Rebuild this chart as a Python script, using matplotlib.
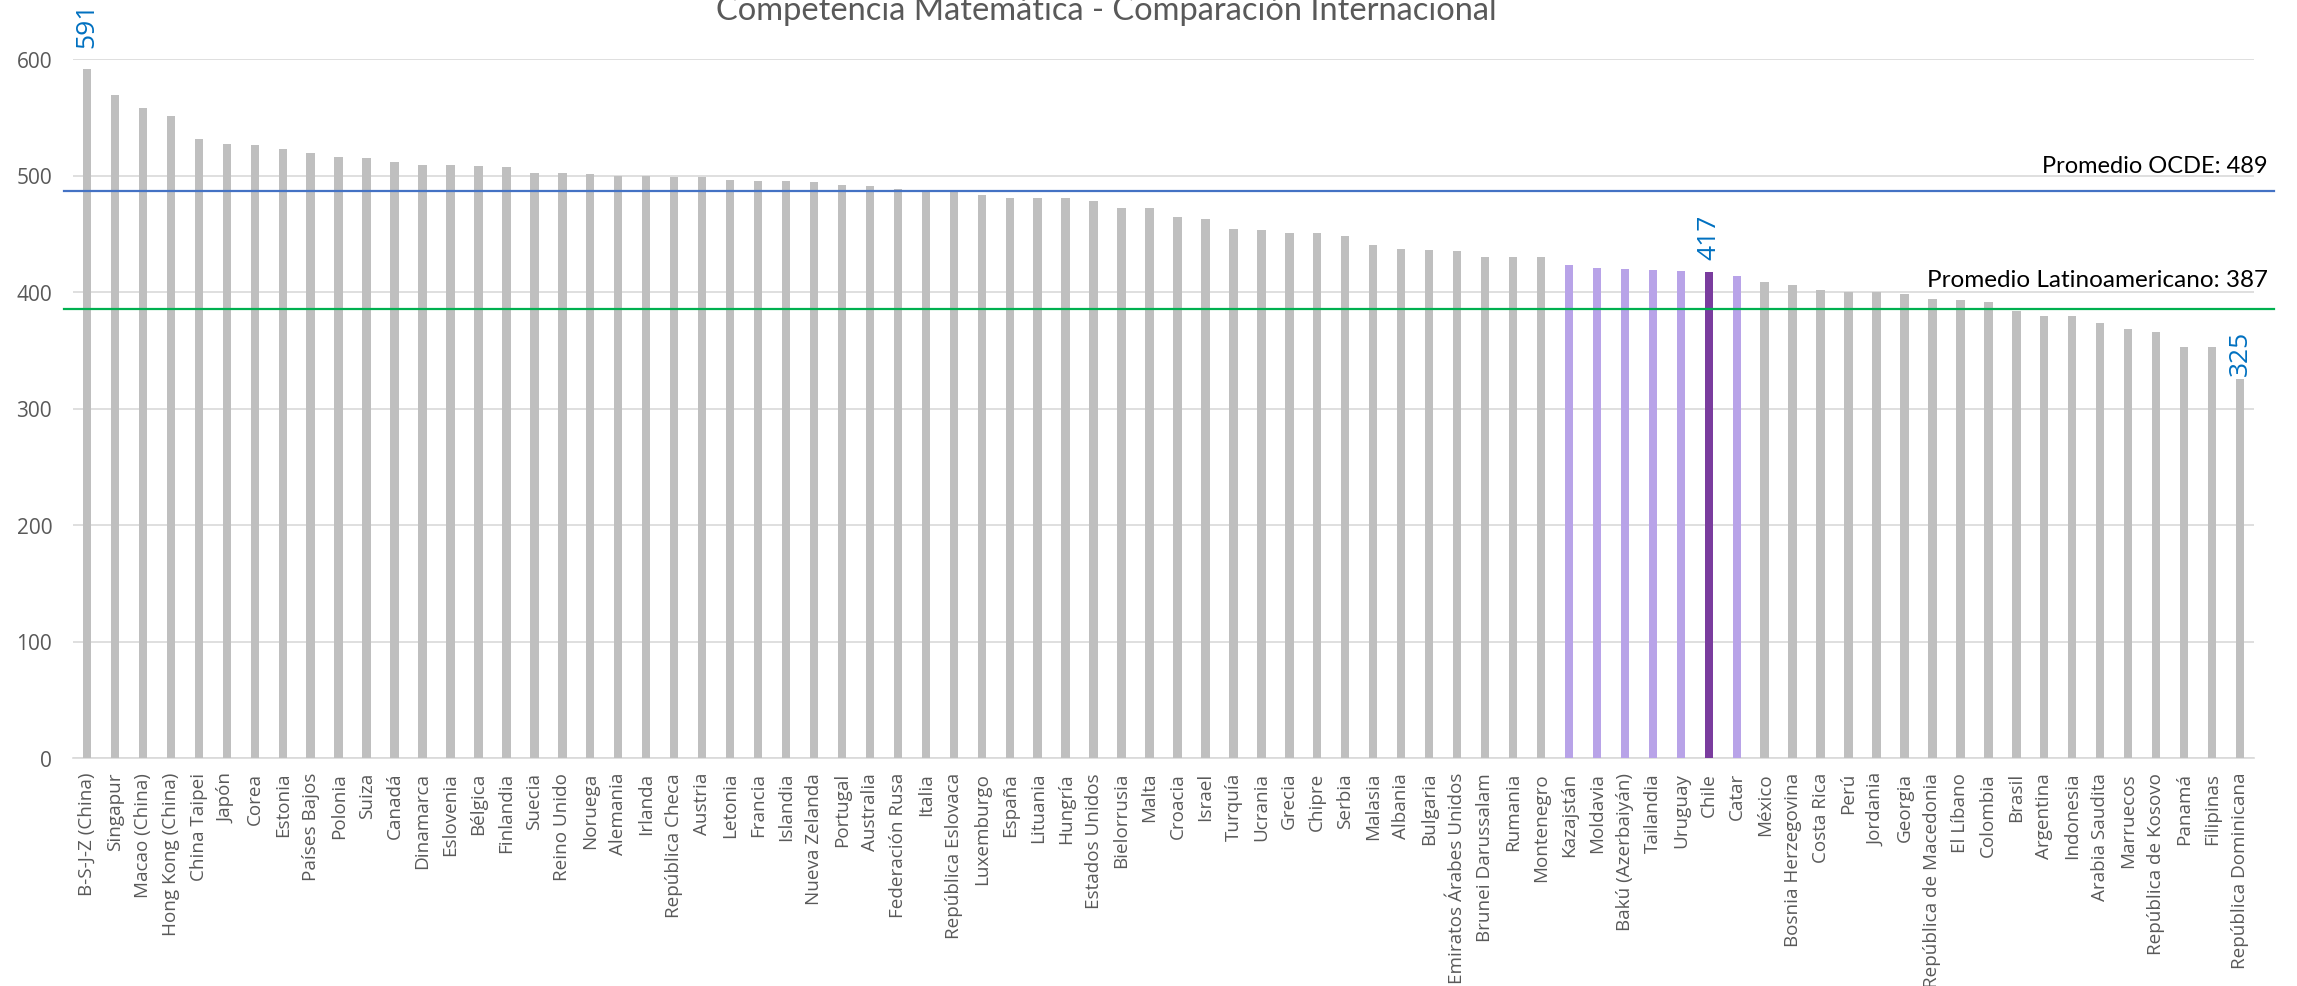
import matplotlib
matplotlib.use("Agg")
import matplotlib.pyplot as plt

countries = [
    "B-S-J-Z (China)", "Singapur", "Macao (China)", "Hong Kong (China)", "China Taipei",
    "Japón", "Corea", "Estonia", "Países Bajos", "Polonia", "Suiza", "Canadá",
    "Dinamarca", "Eslovenia", "Bélgica", "Finlandia", "Suecia", "Reino Unido",
    "Noruega", "Alemania", "Irlanda", "República Checa", "Austria", "Letonia",
    "Francia", "Islandia", "Nueva Zelanda", "Portugal", "Australia", "Federación Rusa",
    "Italia", "República Eslovaca", "Luxemburgo", "España", "Lituania", "Hungría",
    "Estados Unidos", "Bielorrusia", "Malta", "Croacia", "Israel", "Turquía",
    "Ucrania", "Grecia", "Chipre", "Serbia", "Malasia", "Albania", "Bulgaria",
    "Emiratos Árabes Unidos", "Brunei Darussalam", "Rumania", "Montenegro",
    "Kazajstán", "Moldavia", "Bakú (Azerbaiyán)", "Tailandia", "Uruguay", "Chile",
    "Catar", "México", "Bosnia Herzegovina", "Costa Rica", "Perú", "Jordania",
    "Georgia", "República de Macedonia", "El Líbano", "Colombia", "Brasil",
    "Argentina", "Indonesia", "Arabia Saudita", "Marruecos", "República de Kosovo",
    "Panamá", "Filipinas", "República Dominicana",
]
scores = [
    591, 569, 558, 551, 531, 527, 526, 523, 519, 516, 515, 512, 509, 509, 508, 507,
    502, 502, 501, 500, 500, 499, 499, 496, 495, 495, 494, 492, 491, 488, 487, 486,
    483, 481, 481, 481, 478, 472, 472, 464, 463, 454, 453, 451, 451, 448, 440, 437,
    436, 435, 430, 430, 430, 423, 421, 420, 419, 418, 417, 414, 409, 406, 402, 400,
    400, 398, 394, 393, 391, 384, 379, 379, 373, 368, 366, 353, 353, 325,
]
peer_group = ["Kazajstán", "Moldavia", "Bakú (Azerbaiyán)", "Tailandia", "Uruguay", "Catar"]
focus = "Chile"
labelled = ["B-S-J-Z (China)", "Chile", "República Dominicana"]

ocde_avg_text = 489
latam_avg_text = 387
ocde_line = 487
latam_line = 385

title = "Competencia Matemática - Comparación Internacional"

GRAY = "#BFBFBF"
LIGHT_PURPLE = "#B8A3E8"
DARK_PURPLE = "#7A3C9E"
TXT = "#595959"

W, H = 2297, 987
fig = plt.figure(figsize=(W / 100, H / 100), dpi=100)
ax = fig.add_axes([73 / W, 1 - 759 / H, (2254 - 73) / W, (759 - 60) / H])

colors = []
for c in countries:
    if c == focus:
        colors.append(DARK_PURPLE)
    elif c in peer_group:
        colors.append(LIGHT_PURPLE)
    else:
        colors.append(GRAY)

x = list(range(len(countries)))
ax.bar(x, scores, width=0.3, color=colors, zorder=3)

ax.set_xlim(-0.5, len(countries) - 0.5)
ax.set_ylim(0, 600)
ax.set_yticks(range(0, 601, 100))
ax.grid(axis="y", color="#D9D9D9", linewidth=1.2, zorder=0)
ax.set_axisbelow(True)
for s in ["top", "right", "left"]:
    ax.spines[s].set_visible(False)
ax.spines["bottom"].set_color("#D9D9D9")
ax.spines["bottom"].set_linewidth(1.2)
ax.tick_params(axis="both", length=0)
ax.tick_params(axis="y", pad=15, labelsize=15, labelcolor=TXT)
ax.set_xticks(x)
ax.set_xticklabels(countries, rotation=90, fontsize=13.6, color=TXT, fontfamily="Open Sans")
ax.tick_params(axis="x", pad=10)
for lab in ax.get_yticklabels():
    lab.set_fontfamily("Open Sans")

# average lines extending slightly beyond the plot area
x0, x1 = -0.82, len(countries) - 0.5 + 0.72
ax.plot([x0, x1], [ocde_line, ocde_line], color="#4472C4", lw=1.6, clip_on=False, zorder=4)
ax.plot([x0, x1], [latam_line, latam_line], color="#00B050", lw=1.6, clip_on=False, zorder=4)

xr = len(countries) - 0.5 + 0.5
ax.annotate(f"Promedio OCDE: {ocde_avg_text}", xy=(xr, ocde_line), xytext=(0, 13.5),
            textcoords="offset points", ha="right", va="baseline", fontsize=17,
            fontfamily="Lato", color="black", annotation_clip=False)
ax.annotate(f"Promedio Latinoamericano: {latam_avg_text}", xy=(xr, latam_line), xytext=(0, 17),
            textcoords="offset points", ha="right", va="baseline", fontsize=17.5,
            fontfamily="Lato", color="black", annotation_clip=False)

gaps = {"B-S-J-Z (China)": 16.5, "Chile": 9.4, "República Dominicana": 2.9}
for c in labelled:
    i = countries.index(c)
    ax.annotate(str(scores[i]), xy=(i, scores[i]), xytext=(0, gaps[c]),
                textcoords="offset points", ha="center", va="bottom", rotation=90,
                fontsize=19, color="#0070C0", fontfamily="Open Sans",
                annotation_clip=False)

fig.text(1106 / W, 1 - 20 / H, title, ha="center", va="baseline", fontsize=23.5,
         color=TXT, fontfamily="Lato")

fig.savefig("out.png", dpi=100)
